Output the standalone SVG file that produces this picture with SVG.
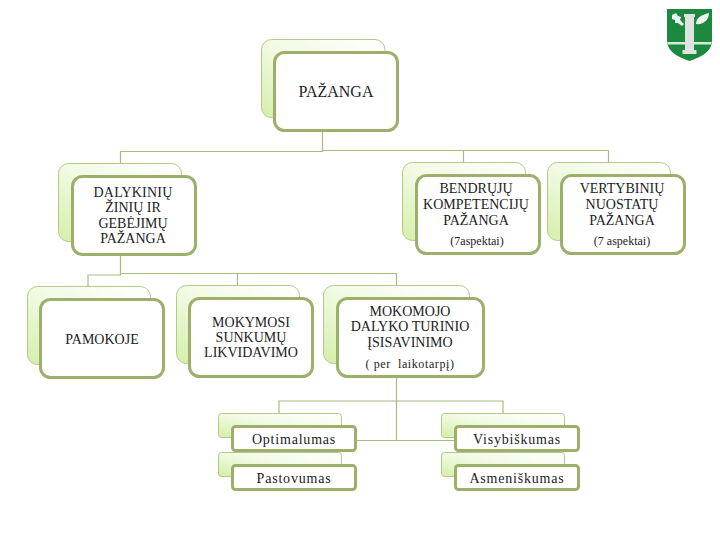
<svg xmlns="http://www.w3.org/2000/svg" width="720" height="540" viewBox="0 0 720 540">
<style>
.b{fill:url(#g);stroke:#b4c88c;stroke-width:1}
.f{fill:#fff;stroke:#9cb06c;stroke-width:3}
.c{fill:none;stroke:#a9bc80;stroke-width:1.2}
text{font-family:"Liberation Serif","Times New Roman",serif;font-size:14px;fill:#222;text-anchor:middle;white-space:pre}
.r{font-size:16px}
.s{font-size:12px}
.p{letter-spacing:.6px}
.w{letter-spacing:.8px}
</style>
<defs>
<linearGradient id="g" x1="0" y1="1" x2="1" y2="0">
<stop offset="0" stop-color="#d4efa8"/>
<stop offset=".5" stop-color="#f2fae4"/>
<stop offset="1" stop-color="#fff"/>
</linearGradient>
</defs>
<rect width="720" height="540" fill="#fff"/>
<g id="connectors" class="c">
<path d="M322.5 131V151.5H120.5V164"/>
<path d="M322.5 150.5H608.5V163M463.5 150.5V163"/>
<path d="M120.5 255V275H88V286"/>
<path d="M120.5 273.5H396.5V285M237.5 273.5V285"/>
<path d="M396.5 377V440.5M396.5 401H279V413M396.5 401H503V413M356 440.5H455"/>
</g>
<g id="n-pazanga"><rect class="b" x="261.5" y="39.5" width="123.500" height="78" rx="10"/><rect class="f" x="274.500" y="52.500" width="123" height="78" rx="10"/><text class="r" x="336" y="97">PAŽANGA</text></g>
<g id="n-dalykiniu"><rect class="b" x="58.500" y="163.500" width="123" height="78" rx="10"/><rect class="f" x="72.500" y="176.500" width="123" height="78" rx="10"/><text x="133" y="197" letter-spacing=".2">DALYKINIŲ</text><text x="133" y="212">ŽINIŲ IR</text><text x="133" y="228">GEBĖJIMŲ</text><text x="133" y="243">PAŽANGA</text></g>
<g id="n-bendruju"><rect class="b" x="402.500" y="162.500" width="123" height="78" rx="10"/><rect class="f" x="416.500" y="175.500" width="123" height="78" rx="10"/><text x="476" y="193">BENDRŲJŲ</text><text x="476" y="209">KOMPETENCIJŲ</text><text x="476" y="225">PAŽANGA</text><text class="s" x="477" y="245">(7aspektai)</text></g>
<g id="n-vertybiniu"><rect class="b" x="547.500" y="162.500" width="123" height="78" rx="10"/><rect class="f" x="561.500" y="175.500" width="123" height="78" rx="10"/><text x="622" y="193">VERTYBINIŲ</text><text x="622" y="209">NUOSTATŲ</text><text x="622" y="225">PAŽANGA</text><text class="s" x="622" y="245">(7 aspektai)</text></g>
<g id="n-pamokoje"><rect class="b" x="27.500" y="286.500" width="123" height="78" rx="10"/><rect class="f" x="40.500" y="299.500" width="123" height="78" rx="10"/><text x="102" y="344">PAMOKOJE</text></g>
<g id="n-mokymosi"><rect class="b" x="176.500" y="285.500" width="123" height="78" rx="10"/><rect class="f" x="189.500" y="298.500" width="123" height="78" rx="10"/><text x="251" y="327">MOKYMOSI</text><text x="251" y="342">SUNKUMŲ</text><text x="251" y="357">LIKVIDAVIMO</text></g>
<g id="n-mokomojo"><rect class="b" x="323.500" y="285.500" width="146" height="78" rx="10"/><rect class="f" x="337.500" y="298.500" width="146" height="78" rx="10"/><text x="410" y="316">MOKOMOJO</text><text x="410" y="331">DALYKO TURINIO</text><text x="410" y="347">ĮSISAVINIMO</text><text class="s p" x="410" y="368">( per  laikotarpį)</text></g>
<g id="n-optimalumas"><rect class="b" x="218.500" y="413.500" width="123" height="24" rx="3"/><rect class="f" x="232.500" y="426.500" width="123" height="24" rx="3"/><text class="w" x="294" y="444">Optimalumas</text></g>
<g id="n-pastovumas"><rect class="b" x="218.500" y="452.500" width="123" height="24" rx="3"/><rect class="f" x="232.500" y="465.500" width="123" height="24" rx="3"/><text class="w" x="294" y="483">Pastovumas</text></g>
<g id="n-visybiskumas"><rect class="b" x="441.500" y="413.500" width="123" height="24" rx="3"/><rect class="f" x="455.500" y="426.500" width="123" height="24" rx="3"/><text class="w" x="517" y="444">Visybiškumas</text></g>
<g id="n-asmeniskumas"><rect class="b" x="441.500" y="452.500" width="123" height="24" rx="3"/><rect class="f" x="455.500" y="465.500" width="123" height="24" rx="3"/><text class="w" x="517" y="483">Asmeniškumas</text></g>
<g id="shield">
<path d="M667 9H712V40C712 52 701 57 689.500 61C678 57 667 52 667 40Z" fill="#1c8a3e"/>
<path d="M667.500 42H711.500V44.500H667.500Z" fill="#d8ead8"/>
<path d="M684 14H695V17H694V50H696.500V54H682.500V50H685V17H684Z" fill="#dfe3df"/>
<path d="M672 15L676 13L678 16L681 17L680 20L684 24L682 26L678 23L675 23L675 20L672 19Z" fill="#eef3ee"/>
<path d="M696 24C696 18 701 15 709 13C709 20 703 25 696 24Z" fill="#f2f6f2"/>
</g>
</svg>
